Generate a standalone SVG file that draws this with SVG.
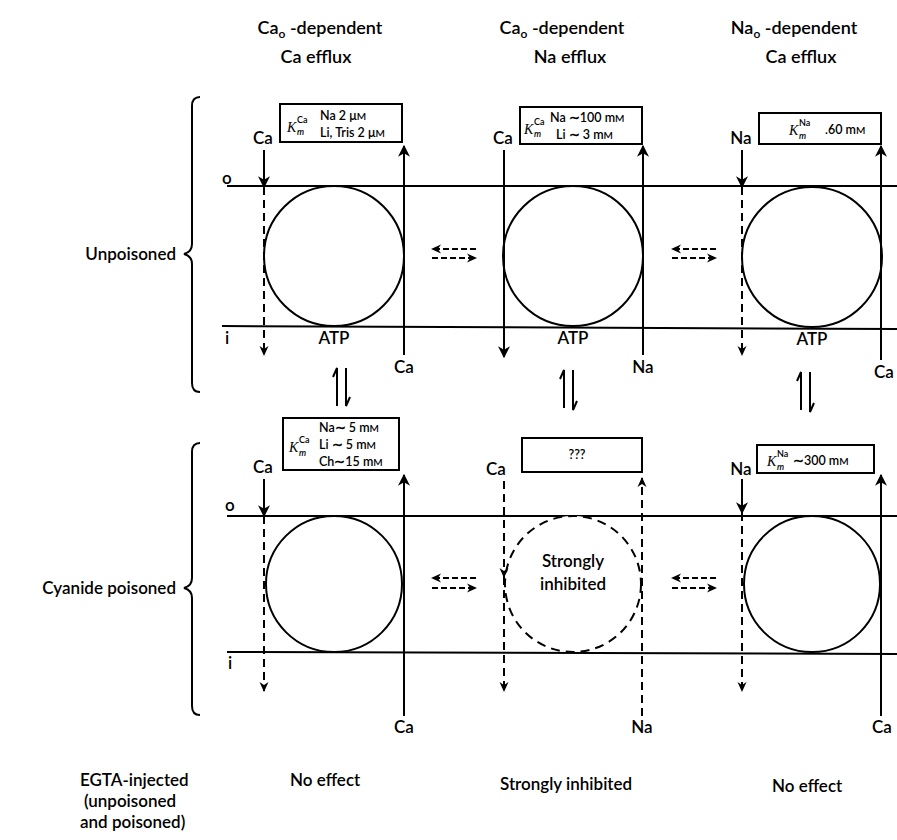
<svg xmlns="http://www.w3.org/2000/svg" width="897" height="840" viewBox="0 0 897 840">
<defs>
<marker id="ah" viewBox="0 0 10 10" refX="9" refY="5" markerWidth="6" markerHeight="6" orient="auto" markerUnits="strokeWidth">
<path d="M0,0 L10,5 L0,10 L3,5 Z" fill="#000"/>
</marker>
<marker id="sh" viewBox="0 0 10 10" refX="9" refY="5" markerWidth="5" markerHeight="5" orient="auto" markerUnits="strokeWidth">
<path d="M0,0.5 L10,5 L0,9.5 L3,5 Z" fill="#000"/>
</marker>
</defs>
<style>
text{font-family:Lato,"Open Sans","Liberation Sans",sans-serif;fill:#000;font-weight:600}
.h{font-size:18px;text-anchor:middle}
.l{font-size:17px}
.b{font-size:12.5px}
.k{font-size:14px;font-style:italic;font-family:"Liberation Serif",serif;font-weight:normal}
.ks{font-size:9px}
.mem{stroke:#000;stroke-width:2;fill:none}
.cell{stroke:#000;stroke-width:2;fill:#fff}
.cd{stroke:#000;stroke-width:2;fill:#fff;stroke-dasharray:9 6}
.s{stroke:#000;stroke-width:2;fill:none}
.d{stroke:#000;stroke-width:2;fill:none;stroke-dasharray:8 5}
.dd{stroke:#000;stroke-width:2;fill:none;stroke-dasharray:6 3}
.box{stroke:#000;stroke-width:2;fill:#fff}
.br{stroke:#000;stroke-width:2;fill:none}
</style>
<rect width="897" height="840" fill="#fff"/>

<g id="headers">
<text class="h" x="320" y="34">Ca<tspan font-size="12" dy="4">o</tspan><tspan dy="-4"> -dependent</tspan></text>
<text class="h" x="316" y="63">Ca efflux</text>
<text class="h" x="562" y="34">Ca<tspan font-size="12" dy="4">o</tspan><tspan dy="-4"> -dependent</tspan></text>
<text class="h" x="570" y="63">Na efflux</text>
<text class="h" x="794" y="34">Na<tspan font-size="12" dy="4">o</tspan><tspan dy="-4"> -dependent</tspan></text>
<text class="h" x="801" y="63">Ca efflux</text>
</g>

<g id="unpoisoned-label">
<path class="br" d="M200,97 Q192,97 192,106 L192,244 Q192,252 184,254 Q192,256 192,264 L192,383 Q192,392 200,392"/>
<text class="l" x="176" y="260" text-anchor="end">Unpoisoned</text>
</g>
<g id="cyanide-label">
<path class="br" d="M200,443 Q192,443 192,452 L192,578 Q192,586 184,588 Q192,590 192,598 L192,706 Q192,715 200,715"/>
<text class="l" x="176" y="594" text-anchor="end">Cyanide poisoned</text>
</g>

<g id="membranes">
<line class="mem" x1="227" y1="186" x2="897" y2="186"/>
<line class="mem" x1="222" y1="326" x2="897" y2="329"/>
<text class="l" x="222" y="184">o</text>
<text class="l" x="225" y="344">i</text>
<line class="mem" x1="227" y1="516" x2="897" y2="516"/>
<line class="mem" x1="227" y1="652" x2="897" y2="654"/>
<text class="l" x="225" y="511">o</text>
<text class="l" x="228" y="669">i</text>
</g>

<g id="top-col1">
<circle class="cell" cx="334" cy="256" r="70"/>
<text class="l" x="334" y="344" text-anchor="middle">ATP</text>
<text class="l" x="263" y="144" text-anchor="middle">Ca</text>
<text class="l" x="404" y="373" text-anchor="middle">Ca</text>
<rect class="box" x="280" y="104" width="122" height="38"/>
<text class="k" x="287" y="132">K</text><text class="ks" x="297" y="123">Ca</text><text class="ks" x="297" y="135" font-style="italic">m</text>
<text class="b" x="320" y="120">Na 2 μ<tspan font-size="10">M</tspan></text>
<text class="b" x="320" y="137">Li, Tris 2 μ<tspan font-size="10">M</tspan></text>
</g>

<g id="top-col2">
<circle class="cell" cx="573" cy="256" r="70"/>
<text class="l" x="573" y="344" text-anchor="middle">ATP</text>
<text class="l" x="503" y="144" text-anchor="middle">Ca</text>
<text class="l" x="643" y="373" text-anchor="middle">Na</text>
<rect class="box" x="520" y="107" width="122" height="37"/>
<text class="k" x="524" y="134">K</text><text class="ks" x="534" y="125">Ca</text><text class="ks" x="534" y="137" font-style="italic">m</text>
<text class="b" x="550" y="122">Na ∼100 m<tspan font-size="10">M</tspan></text>
<text class="b" x="556" y="139">Li  ∼  3 m<tspan font-size="10">M</tspan></text>
</g>

<g id="top-col3">
<circle class="cell" cx="812" cy="257" r="70"/>
<text class="l" x="812" y="345" text-anchor="middle">ATP</text>
<text class="l" x="741" y="144" text-anchor="middle">Na</text>
<text class="l" x="884" y="378" text-anchor="middle">Ca</text>
<rect class="box" x="759" y="113" width="122" height="31"/>
<text class="k" x="789" y="135">K</text><text class="ks" x="799" y="126">Na</text><text class="ks" x="799" y="139" font-style="italic">m</text>
<text class="b" x="825" y="134">.60 m<tspan font-size="10">M</tspan></text>
</g>

<g id="bot-col1">
<circle class="cell" cx="334" cy="584" r="68"/>
<text class="l" x="263" y="473" text-anchor="middle">Ca</text>
<text class="l" x="404" y="733" text-anchor="middle">Ca</text>
<rect class="box" x="283" y="418" width="116" height="52"/>
<text class="k" x="289" y="452">K</text><text class="ks" x="299" y="443">Ca</text><text class="ks" x="299" y="456" font-style="italic">m</text>
<text class="b" x="319" y="432">Na∼  5 m<tspan font-size="10">M</tspan></text>
<text class="b" x="319" y="449">Li  ∼  5 m<tspan font-size="10">M</tspan></text>
<text class="b" x="319" y="466">Ch∼15 m<tspan font-size="10">M</tspan></text>
</g>

<g id="bot-col2">
<circle class="cd" cx="573" cy="584" r="68"/>
<text class="l" x="573" y="567" text-anchor="middle">Strongly</text>
<text class="l" x="573" y="590" text-anchor="middle">inhibited</text>
<text class="l" x="496" y="475" text-anchor="middle">Ca</text>
<text class="l" x="642" y="733" text-anchor="middle">Na</text>
<rect class="box" x="522" y="438" width="120" height="34"/>
<text class="b" x="577" y="459" text-anchor="middle">???</text>
</g>

<g id="bot-col3">
<circle class="cell" cx="812" cy="584" r="68"/>
<text class="l" x="741" y="475" text-anchor="middle">Na</text>
<text class="l" x="882" y="733" text-anchor="middle">Ca</text>
<rect class="box" x="757" y="445" width="117" height="28"/>
<text class="k" x="767" y="466">K</text><text class="ks" x="777" y="457">Na</text><text class="ks" x="777" y="470" font-style="italic">m</text>
<text class="b" x="793" y="465">∼300 m<tspan font-size="10">M</tspan></text>
</g>

<g id="connectors">
<line class="s" x1="264" y1="150" x2="264" y2="187" marker-end="url(#ah)"/>
<line class="d" x1="264" y1="187" x2="264" y2="355" marker-end="url(#sh)"/>
<line class="s" x1="404" y1="355" x2="404" y2="146" marker-end="url(#ah)"/>
<line class="s" x1="504" y1="150" x2="504" y2="357" marker-end="url(#ah)"/>
<line class="s" x1="643" y1="355" x2="643" y2="146" marker-end="url(#ah)"/>
<line class="s" x1="742" y1="150" x2="742" y2="187" marker-end="url(#ah)"/>
<line class="d" x1="742" y1="187" x2="742" y2="355" marker-end="url(#sh)"/>
<line class="s" x1="881" y1="360" x2="881" y2="146" marker-end="url(#ah)"/>
<line class="s" x1="264" y1="479" x2="264" y2="516" marker-end="url(#ah)"/>
<line class="d" x1="264" y1="516" x2="264" y2="691" marker-end="url(#sh)"/>
<line class="s" x1="404" y1="716" x2="404" y2="475" marker-end="url(#ah)"/>
<line class="d" x1="504" y1="481" x2="504" y2="577" marker-end="url(#sh)"/>
<line class="d" x1="504" y1="577" x2="504" y2="691" marker-end="url(#sh)"/>
<line class="d" x1="642" y1="716" x2="642" y2="478" marker-end="url(#sh)"/>
<line class="s" x1="742" y1="479" x2="742" y2="513" marker-end="url(#ah)"/>
<line class="d" x1="742" y1="513" x2="742" y2="691" marker-end="url(#sh)"/>
<line class="s" x1="881" y1="716" x2="881" y2="475" marker-end="url(#ah)"/>

<line class="dd" x1="476" y1="249" x2="432" y2="249" marker-end="url(#sh)"/>
<line class="dd" x1="432" y1="258" x2="476" y2="258" marker-end="url(#sh)"/>
<line class="dd" x1="716" y1="249" x2="672" y2="249" marker-end="url(#sh)"/>
<line class="dd" x1="672" y1="258" x2="716" y2="258" marker-end="url(#sh)"/>
<line class="dd" x1="476" y1="578" x2="432" y2="578" marker-end="url(#sh)"/>
<line class="dd" x1="432" y1="588" x2="476" y2="588" marker-end="url(#sh)"/>
<line class="dd" x1="716" y1="578" x2="672" y2="578" marker-end="url(#sh)"/>
<line class="dd" x1="672" y1="588" x2="716" y2="588" marker-end="url(#sh)"/>

<path class="s" d="M337,406 L337,368 L333,377"/>
<path class="s" d="M346,368 L346,406 L350,397"/>
<path class="s" d="M564,408 L564,370 L560,379"/>
<path class="s" d="M573,370 L573,410 L577,401"/>
<path class="s" d="M801,410 L801,372 L797,381"/>
<path class="s" d="M810,372 L810,412 L814,403"/>
</g>

<g id="footer">
<text class="l" x="80" y="786">EGTA-injected</text>
<text class="l" x="84" y="807">(unpoisoned</text>
<text class="l" x="80" y="828">and poisoned)</text>
<text class="l" x="290" y="786">No effect</text>
<text class="l" x="500" y="790">Strongly inhibited</text>
<text class="l" x="772" y="792">No effect</text>
</g>
</svg>
